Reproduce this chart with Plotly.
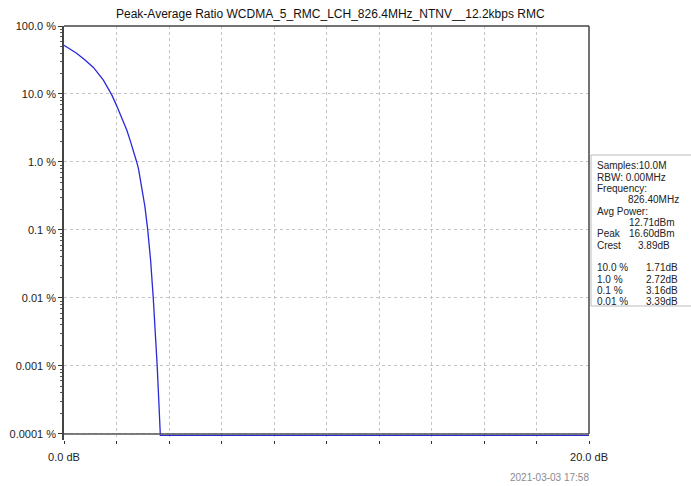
import plotly.graph_objects as go

# ---- data ----
ratio_db = [0.0, 0.24, 0.48, 0.8, 1.12, 1.5, 1.82, 2.0, 2.13, 2.26, 2.39, 2.52, 2.64, 2.71, 2.77, 2.84,
            2.96, 3.08, 3.19, 3.30, 3.40, 3.48, 3.55, 3.61, 3.67, 20.0]
prob_pct = [52.0, 46.0, 39.8, 31.5, 24.6, 16.0, 9.7, 6.8, 5.2, 3.95, 2.95, 2.08, 1.5, 1.2, 1.0, 0.785,
            0.447, 0.224, 0.1, 0.0355, 0.01, 0.00316, 0.001, 0.000316, 0.000095, 0.000095]

y_tick_vals = [100, 10, 1, 0.1, 0.01, 0.001, 0.0001]
y_tick_text = ["100.0 %", "10.0 %", "1.0 %", "0.1 %", "0.01 %", "0.001 %", "0.0001 %"]
x_tick_vals = [0, 2, 4, 6, 8, 10, 12, 14, 16, 18, 20]
x_tick_text = ["0.0 dB", "", "", "", "", "", "", "", "", "", "20.0 dB"]

title = "Peak-Average Ratio WCDMA_5_RMC_LCH_826.4MHz_NTNV__12.2kbps RMC"
info_left = ["Samples:10.0M", "RBW: 0.00MHz", "Frequency:", "", "Avg Power:", "", "Peak", "Crest", "",
             "10.0 %", "1.0 %", "0.1 %", "0.01 %"]
info_right = ["", "", "", "826.40MHz", "", "12.71dBm", "16.60dBm", "3.89dB", "",
              "1.71dB", "2.72dB", "3.16dB", "3.39dB"]
info_right_edge = [0, 0, 0, 681, 0, 677, 677, 672, 0, 680, 680, 680, 680]
date_text = "2021-03-03 17:58"

# ---- layout geometry ----
W, H = 691, 486
L, R, T, B = 64, 589, 26, 440
FONT = "Liberation Sans, Arial, sans-serif"


def px(x):
    return (x - L) / (R - L)


def py(y):
    return (B - y) / (B - T)


minor_vals = [m * 10 ** e for e in range(-4, 2) for m in range(2, 10)]

fig = go.Figure()
fig.add_trace(go.Scatter(x=ratio_db, y=prob_pct, mode="lines",
                         line=dict(color="#2a2ad8", width=1.3), showlegend=False))

fig.update_layout(
    template="none",
    width=W, height=H,
    margin=dict(l=L, r=W - R, t=T, b=H - B, pad=0, autoexpand=False),
    paper_bgcolor="white", plot_bgcolor="white",
    font=dict(family=FONT, size=11, color="#222"),
    showlegend=False,
)
fig.update_xaxes(range=[0, 20], tickvals=x_tick_vals, ticktext=x_tick_text, automargin=False,
                 showgrid=True, gridcolor="#c4c4c4", griddash="3px,3px", gridwidth=1,
                 zeroline=False, showline=False, ticks="outside", ticklen=3,
                 tickcolor="#333", tickfont=dict(size=11, color="#222"), ticklabelstandoff=4)
fig.update_yaxes(type="log", range=[-4.09, 2.0], tickvals=y_tick_vals, ticktext=y_tick_text, automargin=False,
                 showgrid=True, gridcolor="#c4c4c4", griddash="3px,3px", gridwidth=1,
                 zeroline=False, showline=True, linecolor="#444", linewidth=1.5,
                 ticks="outside", ticklen=4, tickcolor="#333",
                 minor=dict(tickvals=minor_vals, ticks="outside", ticklen=2, tickcolor="#555", showgrid=False),
                 tickfont=dict(size=11, color="#222"))

# frame lines
fig.add_shape(type="line", xref="x", yref="y", x0=0, x1=20, y0=0.0001, y1=0.0001,
              line=dict(color="#555", width=1.5))
fig.add_shape(type="line", xref="paper", yref="paper", x0=0, x1=1, y0=1, y1=1,
              line=dict(color="#444", width=1.5))
fig.add_shape(type="line", xref="paper", yref="paper", x0=1, x1=1, y0=py(434), y1=1,
              line=dict(color="#444", width=1.5))

# info box
fig.add_shape(type="rect", xref="paper", yref="paper", x0=px(591), x1=px(700), y0=py(306), y1=py(155),
              line=dict(color="#bbbbbb", width=1), fillcolor="white")
for i, txt in enumerate(info_left):
    yy = 166 + 11.33 * i
    if txt:
        fig.add_annotation(x=px(595), y=py(yy), xref="paper", yref="paper", text=txt,
                           showarrow=False, xanchor="left", yanchor="middle",
                           font=dict(size=10, color="#222"))
    if info_right[i]:
        fig.add_annotation(x=px(info_right_edge[i]), y=py(yy), xref="paper", yref="paper",
                           text=info_right[i], showarrow=False, xanchor="right", yanchor="middle",
                           font=dict(size=10, color="#222"))

# title and date
fig.add_annotation(x=px(330), y=py(14), xref="paper", yref="paper", text=title,
                   showarrow=False, xanchor="center", yanchor="middle",
                   font=dict(size=12, color="#111"))
fig.add_annotation(x=px(549), y=py(477), xref="paper", yref="paper", text=date_text,
                   showarrow=False, xanchor="center", yanchor="middle",
                   font=dict(size=10, color="#8a8a8a"))

fig.write_html("out.html", config={"displayModeBar": False},
               post_script="document.body.style.margin='0';document.body.style.overflow='hidden';")
